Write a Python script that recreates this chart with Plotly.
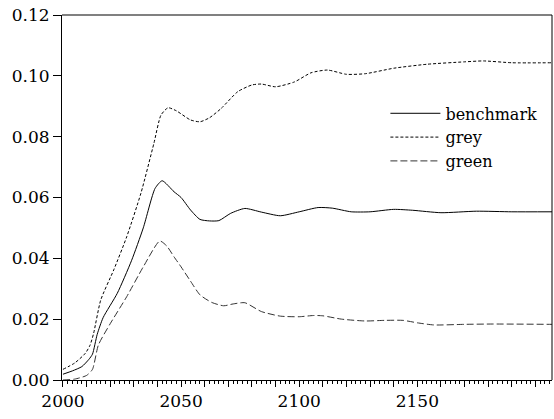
import plotly.graph_objects as go

# ---- data ----
bench_years = [2000, 2004, 2008, 2011, 2012.5, 2014.5, 2017, 2023, 2029, 2034, 2039, 2042,
               2047, 2050, 2054, 2058, 2062, 2066, 2071, 2077, 2084, 2092, 2100, 2108,
               2114, 2122, 2130, 2140, 2148, 2160, 2175, 2190, 2207]
bench_vals = [0.0019, 0.0030, 0.0044, 0.0068, 0.0085, 0.0150, 0.0205, 0.0285, 0.0392, 0.0500,
              0.0630, 0.0655, 0.0619, 0.0600, 0.0559, 0.0528, 0.0523, 0.0524, 0.0548, 0.0564,
              0.0552, 0.0540, 0.0553, 0.0567, 0.0565, 0.0553, 0.0553, 0.0561, 0.0558, 0.0550,
              0.0555, 0.0553, 0.0553]

grey_years = [2000, 2005, 2009.5, 2011.5, 2013, 2016, 2021.5, 2027, 2033, 2038.5, 2041.5,
              2044.5, 2048, 2054, 2058, 2062, 2067, 2074, 2080, 2084, 2090, 2098, 2105,
              2112, 2120, 2128, 2140, 2154, 2170, 2178, 2190, 2207]
grey_vals = [0.0035, 0.0056, 0.0088, 0.0115, 0.0154, 0.0263, 0.0362, 0.0471, 0.0614, 0.0778,
             0.0871, 0.0895, 0.0885, 0.0855, 0.0849, 0.0862, 0.0893, 0.0948, 0.0970, 0.0973,
             0.0964, 0.0980, 0.1010, 0.1019, 0.1005, 0.1007, 0.1025, 0.1038, 0.1046, 0.1049,
             0.1043, 0.1043]

green_years = [2000, 2005, 2010, 2012.5, 2015, 2020, 2027, 2034, 2041, 2044, 2047, 2050,
               2054, 2058, 2063, 2068, 2072, 2077, 2084, 2092, 2100, 2106, 2110, 2118,
               2128, 2136, 2144, 2150, 2157, 2170, 2182, 2207]
green_vals = [0.0000, 0.0003, 0.0015, 0.0035, 0.0115, 0.0185, 0.0274, 0.0372, 0.0457, 0.0440,
              0.0405, 0.0372, 0.0325, 0.0280, 0.0255, 0.0244, 0.0250, 0.0254, 0.0225, 0.0210,
              0.0208, 0.0212, 0.0211, 0.0200, 0.0194, 0.0196, 0.0196, 0.0188, 0.0181, 0.0183,
              0.0184, 0.0183]

x_major = list(range(2000, 2210, 10))
x_labels = [str(v) if v % 50 == 0 else "" for v in x_major]
y_ticks = [0.00, 0.02, 0.04, 0.06, 0.08, 0.10, 0.12]

FONT = "DejaVu Serif"

fig = go.Figure()
fig.add_trace(go.Scatter(x=bench_years, y=bench_vals, name="benchmark", mode="lines",
                         line=dict(color="black", width=1, shape="spline", smoothing=0.6)))
fig.add_trace(go.Scatter(x=grey_years, y=grey_vals, name="grey", mode="lines",
                         line=dict(color="black", width=1, dash="3px,2px", shape="spline", smoothing=0.6)))
fig.add_trace(go.Scatter(x=green_years, y=green_vals, name="green", mode="lines",
                         line=dict(color="#333333", width=1, dash="7px,3px", shape="spline", smoothing=0.6)))

fig.update_layout(
    width=554, height=419,
    margin=dict(l=62, r=2, t=15, b=39),
    paper_bgcolor="white", plot_bgcolor="white",
    font=dict(family=FONT, size=17, color="black"),
    showlegend=True,
    legend=dict(x=0.66, y=0.777, xanchor="left", yanchor="top", bgcolor="rgba(0,0,0,0)",
                font=dict(family=FONT, size=16, color="black"), tracegroupgap=0,
                itemwidth=50),
    xaxis=dict(range=[1999.6, 2207], tickmode="array", tickvals=x_major, ticktext=x_labels,
               ticks="outside", ticklen=6, tickcolor="black", tickwidth=1,
               showline=True, linecolor="black", linewidth=1, showgrid=False, zeroline=False,
               minor=dict(dtick=2, ticks="outside", ticklen=3, tickcolor="black", tickwidth=1, showgrid=False),
               tickfont=dict(family=FONT, size=17)),
    yaxis=dict(range=[0, 0.12], tickvals=y_ticks, tickformat=".2f",
               ticks="outside", ticklen=8, tickcolor="black", tickwidth=1,
               showline=True, linecolor="black", linewidth=1, showgrid=False, zeroline=False,
               tickfont=dict(family=FONT, size=17)),
    shapes=[
        dict(type="line", xref="paper", yref="paper", x0=0, x1=1, y0=1, y1=1,
             line=dict(color="#808080", width=2)),
        dict(type="line", xref="paper", yref="paper", x0=1, x1=1, y0=0, y1=1,
             line=dict(color="black", width=1)),
    ],
)

fig.write_html("out.html")
